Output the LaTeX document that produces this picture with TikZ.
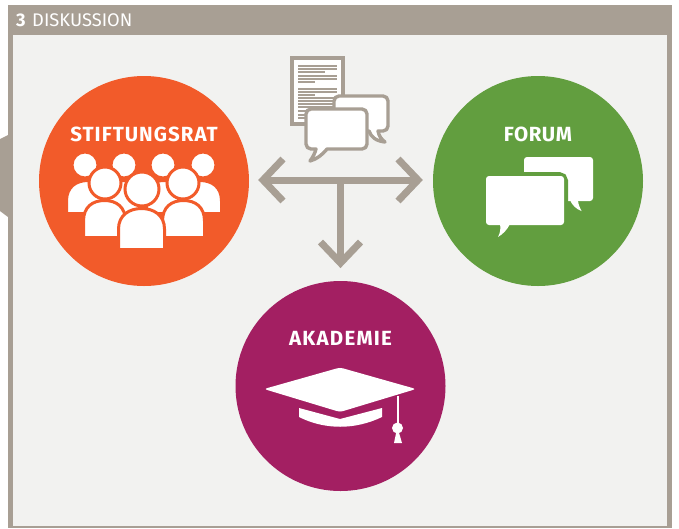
\documentclass[tikz,border=0pt]{standalone}
\usepackage{fontspec}
\setmainfont{Fira Sans}
\definecolor{taupe}{HTML}{A89F94}
\definecolor{paper}{HTML}{F2F2F0}
\definecolor{orangec}{HTML}{F25B2A}
\definecolor{greenc}{HTML}{629E3F}
\definecolor{purplec}{HTML}{A31F62}
\newcommand{\bodyshape}[4]{% x1 x2 top bottom
  \draw[fill=white,draw=orangec,line width=3pt,line join=round]
    (#1-1.5,#4+1.5) -- (#1-1.5,#3+19) .. controls (#1-1.5,#3+5) and ({(#1+#2)/2-12},#3-1.5) .. ({(#1+#2)/2},#3-1.5)
    .. controls ({(#1+#2)/2+12},#3-1.5) and (#2+1.5,#3+5) .. (#2+1.5,#3+19) -- (#2+1.5,#4+1.5) -- cycle;}
\newcommand{\headshape}[3]{\draw[fill=white,draw=orangec,line width=3pt] (#1,#2) circle[radius=#3];}
\tikzset{
  disc/.style={circle,minimum size=210pt,inner sep=0pt,fill=#1},
  title/.style={text=white,font=\fontsize{20.5}{21}\selectfont\bfseries,inner sep=0pt,anchor=center},
  flowline/.style={draw=taupe,line width=7pt,miter limit=10},
  greyoutline/.style={draw=taupe,line width=3.4pt,fill=white,line join=round},
  textline/.style={draw=taupe,line width=1.5pt},
}
\begin{document}
\begin{tikzpicture}[x=1pt,y=-1pt]
\useasboundingbox (0,0) rectangle (679,528);
% frame
\fill[taupe] (8,5) rectangle (672,528);
\fill[paper] (13,35) rectangle (667,526);
\fill[taupe] (0,139) -- (8,135) -- (8,217) -- (0,211) -- cycle;
\node[anchor=base west,inner sep=0pt,text=white,font=\fontsize{18.3}{20}\selectfont] (head) at (16,26) {\textbf{3}\hspace{6.5pt}DISKUSSION};
% discs
\node[disc=orangec] (rat) at (144,181) {};
\node[disc=greenc] (forum) at (538,181) {};
\node[disc=purplec] (aka) at (340.5,386) {};
\node[title] (ratt) at (144,134) {\addfontfeatures{LetterSpace=5}STIFTUNGSRAT};
\node[title] (forumt) at (538,134) {\addfontfeatures{LetterSpace=3}FORUM};
\node[title] (akat) at (340.5,338) {\addfontfeatures{LetterSpace=6}AKADEMIE};
% people
\headshape{85}{165}{13}\headshape{124}{165}{13}\headshape{163}{165}{13}\headshape{203}{165}{13}
\bodyshape{68}{108}{182}{212}\bodyshape{108}{140}{182}{212}\bodyshape{148}{180}{182}{212}\bodyshape{180}{220}{182}{212}
\headshape{105}{183}{16}\headshape{183}{183}{16}
\bodyshape{85}{124}{202}{236}\bodyshape{164}{203}{202}{236}
\headshape{142}{189}{17}
\bodyshape{120}{163}{210}{248}
% document
\draw[draw=taupe,line width=3.5pt,fill=white] (292,58) rectangle (343,124);
\foreach \yy/\xe in {66/337,69/337,72/325,76/337,79/337,82/315,89/337,92/337,95/315,98/337,101/337,104/337,107/337,111/337,115/337,118/325}
  \draw[textline] (298,\yy) -- (\xe,\yy);
% grey bubbles
\draw[greyoutline] (339,96) -- (383,96) arc[start angle=-90,end angle=0,radius=5] -- (388,126)
  arc[start angle=0,end angle=90,radius=5] -- (378,131) .. controls (379,136) and (381,139) .. (385,142)
  .. controls (376,141) and (371,137) .. (369,131) -- (339,131) arc[start angle=90,end angle=180,radius=5] -- (334,101) arc[start angle=180,end angle=270,radius=5] -- cycle;
\draw[greyoutline] (311,109) -- (362,109) arc[start angle=-90,end angle=0,radius=5] -- (367,144)
  arc[start angle=0,end angle=90,radius=5] -- (327,149) .. controls (322,155) and (317,159) .. (310,161)
  .. controls (313,157) and (315,153) .. (316,149) -- (311,149) arc[start angle=90,end angle=180,radius=5] -- (306,114) arc[start angle=180,end angle=270,radius=5] -- cycle;
% arrows
\coordinate (al) at (258,180); \coordinate (ar) at (423,180);
\coordinate (am) at (340.5,180); \coordinate (ad) at (340.5,268);
\draw[flowline] ([shift={(6,0)}]al) -- ([shift={(-6,0)}]ar);
\draw[flowline] (am) -- ([shift={(0,-6)}]ad);
\draw[flowline] ([shift={(25,-21)}]al) -- ([shift={(5,0)}]al) -- ([shift={(25,21)}]al);
\draw[flowline] ([shift={(-25,-21)}]ar) -- ([shift={(-5,0)}]ar) -- ([shift={(-25,21)}]ar);
\draw[flowline] ([shift={(-20,-26)}]ad) -- ([shift={(0,-5)}]ad) -- ([shift={(20,-26)}]ad);
% green bubbles
\fill[white,rounded corners=3pt] (524,157) rectangle (593,201);
\fill[white] (570,200) -- (578,200) .. controls (578,204) and (580,208) .. (581.5,211) .. controls (576,209) and (572,205) .. (570,200) -- cycle;
\draw[greenc,line width=8pt,fill=white,rounded corners=5pt] (486,176) rectangle (564,225);
\fill[white,rounded corners=3pt] (486,176) rectangle (564,225);
\fill[white] (500,224) -- (510,224) .. controls (507,230) and (503,234) .. (498,237) .. controls (500,233) and (501,229) .. (500,224) -- cycle;
% hat
\fill[white,rounded corners=3pt] (264,389) -- (340,367.5) -- (416,389) -- (340,412) -- cycle;
\fill[white] (299,408) -- (340,419) -- (382,408) -- (382,417) .. controls (355,430) and (325,430) .. (299,417) -- cycle;
\draw[white,line width=2pt] (397.5,396) -- (397.5,426);
\fill[white] (397.5,428) circle[radius=5.5];
\fill[white] (396.5,431) -- (398.5,431) -- (402,443) -- (394,443) -- cycle;
\end{tikzpicture}
\end{document}
